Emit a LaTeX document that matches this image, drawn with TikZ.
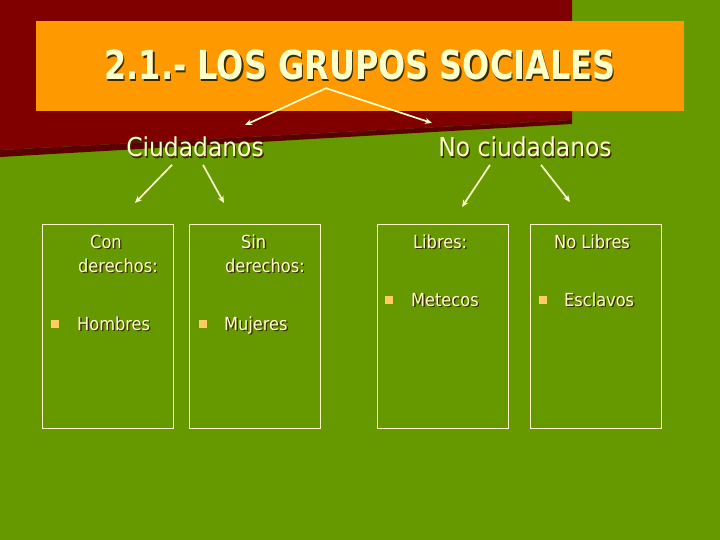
\documentclass[tikz,border=0pt]{standalone}
\usepackage{fontspec}
\setmainfont[FakeStretch=0.9]{DejaVu Sans}
\newfontfamily\titlefont[FakeStretch=0.8]{DejaVu Sans}
\usetikzlibrary{arrows.meta}
\definecolor{slidegreen}{HTML}{669900}
\definecolor{slidered}{HTML}{800000}
\definecolor{slidedark}{HTML}{5A0000}
\definecolor{slideorange}{HTML}{FF9900}
\definecolor{cream}{HTML}{FFFFCC}
\definecolor{bulletc}{HTML}{FFCC66}
\definecolor{shadowc}{HTML}{3A2A00}
\newcommand{\shtxt}[1]{\makebox[0pt][l]{\hspace{1.3pt}\raisebox{-1.3pt}{\textcolor{shadowc}{#1}}}#1}

\begin{document}
\begin{tikzpicture}[
  x = 1pt, y = -1pt,
  panel/.style = {
    draw = cream,
    line width = 0.8pt,
    minimum width = 131pt,
    minimum height = 204pt,
    inner sep = 0pt,
  },
  sq/.style = {
    fill = bulletc,
    minimum size = 8pt,
    inner sep = 0pt,
  },
  head/.style = {
    text = cream,
    font = \fontsize{26}{26}\selectfont,
    inner sep = 0pt,
  },
  boxtext/.style = {
    text = cream,
    font = \fontsize{18}{23.5}\selectfont,
    align = left,
    inner sep = 0pt,
  },
  arr/.style = {
    draw = cream,
    line width = 1.7pt,
    -{Stealth[length = 7pt, width = 6pt]}
  }
]
  \useasboundingbox (0, 0) rectangle (720, 540);
  \fill[slidegreen] (0, 0) rectangle (720, 540);
  \fill[slidered] (0, 0) -- (572, 0) -- (572, 120) -- (0, 150) -- cycle;
  \fill[slidedark] (0, 150) -- (572, 120) -- (572, 124) -- (0, 157) -- cycle;

  \draw node[fill = slideorange, minimum width = 648pt, minimum height = 90pt,
    text = cream, font = \titlefont\bfseries\fontsize{40}{40}\selectfont]
    (banner) at (360, 66) {\shtxt{2.1.- LOS GRUPOS SOCIALES}};

  \draw node[head, anchor = base] (ciud) at (195, 157) {\shtxt{Ciudadanos}};
  \draw node[head, anchor = base] (nociud) at (525, 157) {\shtxt{No ciudadanos}};

  \coordinate (pc) at (245, 125);
  \coordinate (pn) at (432, 123);
  \coordinate (pcon) at (135, 203);
  \coordinate (psin) at (224, 203);
  \coordinate (plib) at (462, 207);
  \coordinate (pnol) at (570, 202);

  \draw[arr] ([xshift = -34pt, yshift = 23pt]banner.south) -- (pc);
  \draw[arr] ([xshift = -34pt, yshift = 23pt]banner.south) -- (pn);
  \draw[arr] ([xshift = -23pt, yshift = -6pt]ciud.south) -- (pcon);
  \draw[arr] ([xshift = 8pt, yshift = -6pt]ciud.south) -- (psin);
  \draw[arr] ([xshift = -35pt, yshift = -6pt]nociud.south) -- (plib);
  \draw[arr] ([xshift = 16pt, yshift = -6pt]nociud.south) -- (pnol);

  % four boxes
  \draw node[panel] (con) at (107.5, 326) {};
  \draw node[panel] (sin) at (255, 326) {};
  \draw node[panel] (lib) at (442.5, 326) {};
  \draw node[panel] (nol) at (595.5, 326) {};

  \draw node[boxtext, anchor = base west] (conT) at (78, 272)
    {\hspace{12pt}\shtxt{Con}\\\shtxt{derechos:}};
  \draw node[boxtext, anchor = base west] (sinT) at (225, 272)
    {\hspace{16pt}\shtxt{Sin}\\\shtxt{derechos:}};
  \draw node[boxtext, anchor = base west] (libT) at (413, 248) {\shtxt{Libres:}};
  \draw node[boxtext, anchor = base west] (nolT) at (554, 248) {\shtxt{No Libres}};

  \draw node[sq] (b1) at (55, 324) {};
  \draw node[sq] (b2) at (202.5, 324) {};
  \draw node[sq] (b3) at (389, 300) {};
  \draw node[sq] (b4) at (542.5, 300) {};

  \draw node[boxtext, anchor = base west] (hom) at (77, 330) {\shtxt{Hombres}};
  \draw node[boxtext, anchor = base west] (muj) at (224, 330) {\shtxt{Mujeres}};
  \draw node[boxtext, anchor = base west] (met) at (411, 306) {\shtxt{Metecos}};
  \draw node[boxtext, anchor = base west] (esc) at (564, 306) {\shtxt{Esclavos}};
\end{tikzpicture}
\end{document}
